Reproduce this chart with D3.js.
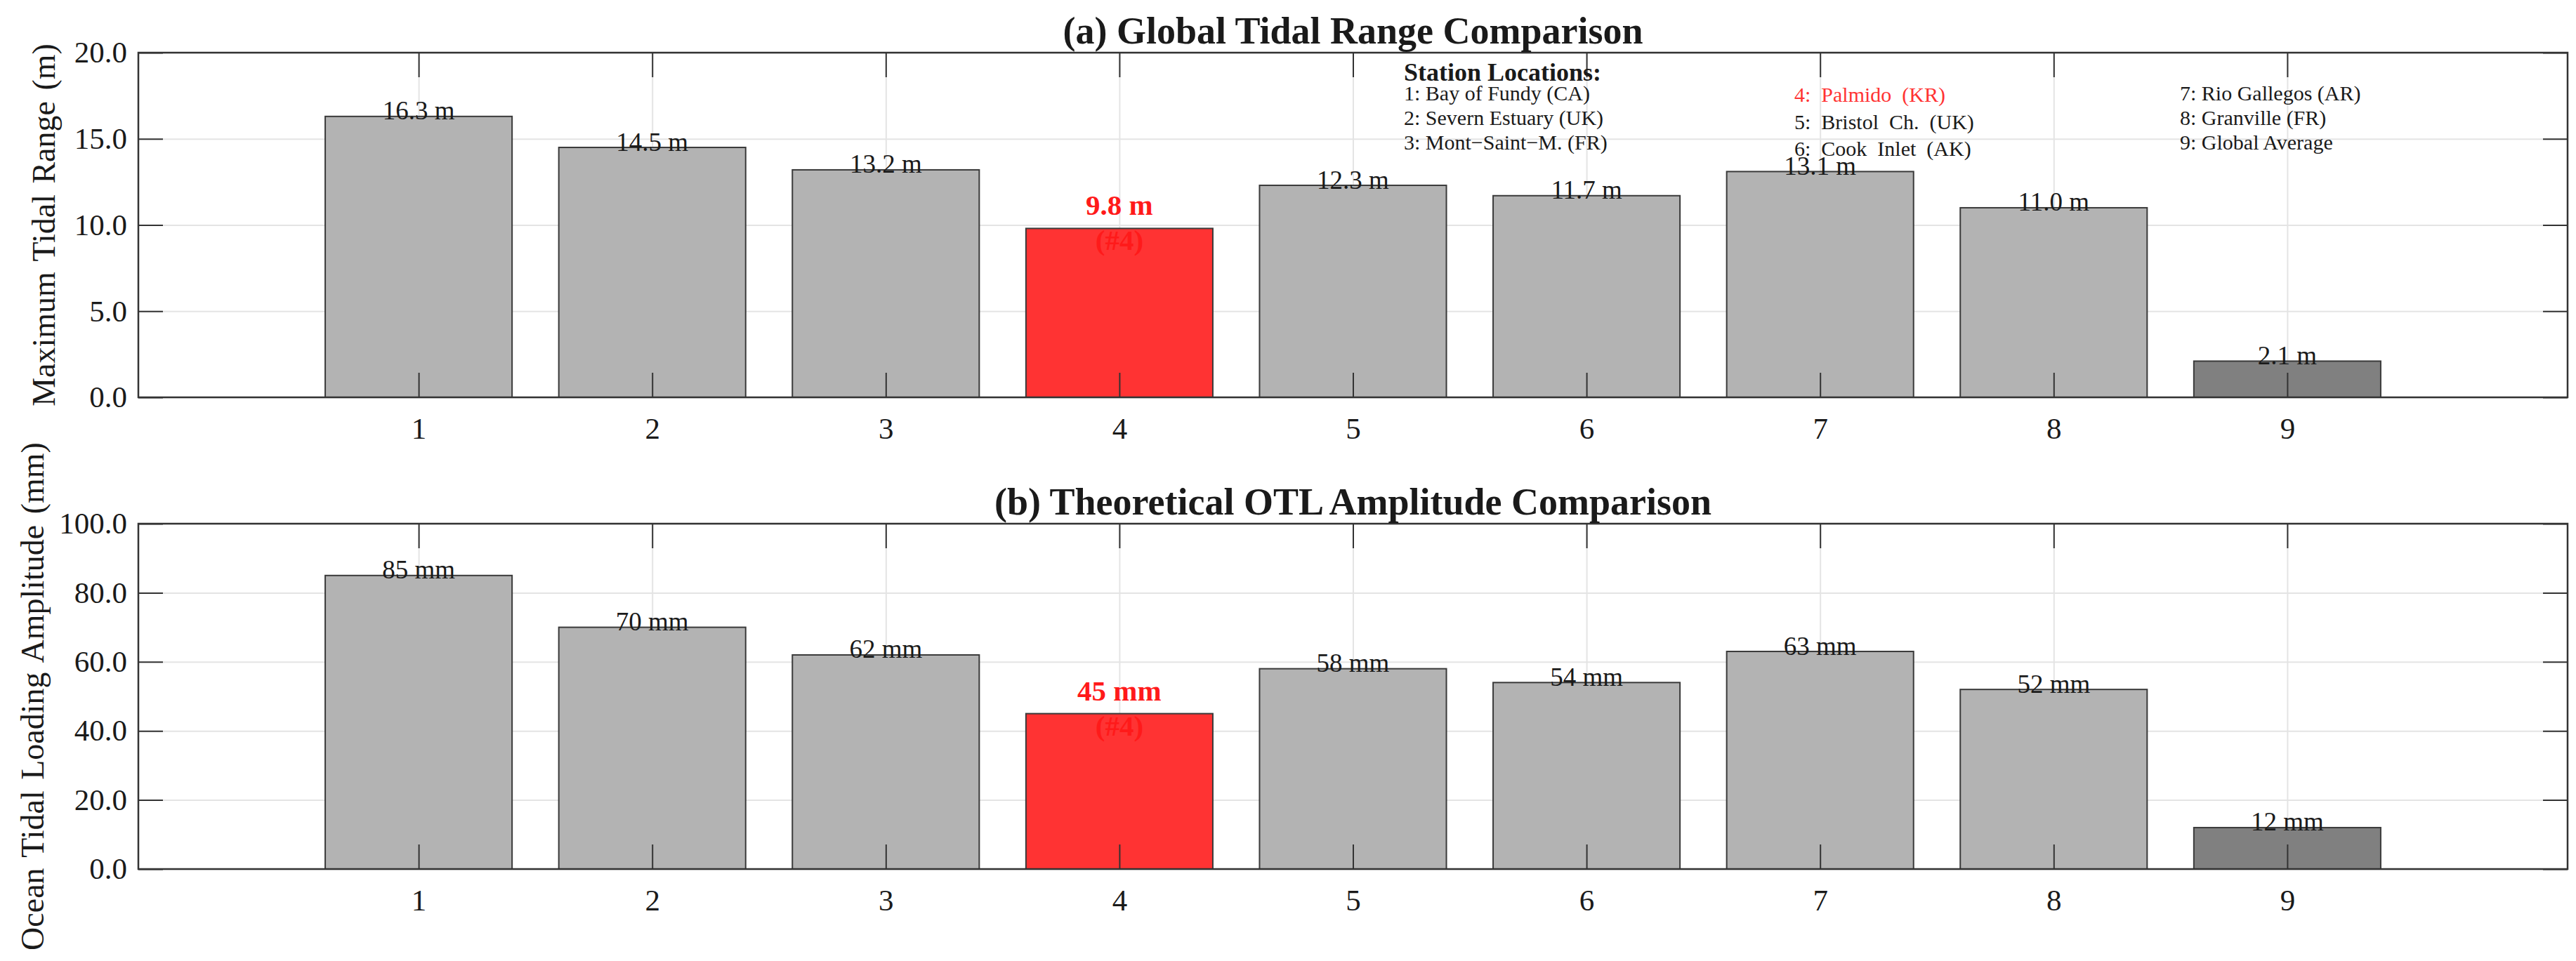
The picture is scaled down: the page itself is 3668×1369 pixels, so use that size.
<!DOCTYPE html>
<html>
<head>
<meta charset="utf-8">
<script src="https://cdn.jsdelivr.net/npm/d3@7"></script>
<style>
  html, body { margin: 0; padding: 0; background: #ffffff; }
  svg { display: block; }
</style>
</head>
<body>
<script>
/**
 * Tidal range vs OTL amplitude, two stacked bar panels
 */

// Data
const STATIONS      = [1, 2, 3, 4, 5, 6, 7, 8, 9];
const STATION_NAMES = ['Bay of Fundy (CA)', 'Severn Estuary (UK)', 'Mont\u2212Saint\u2212M. (FR)',
                       'Palmido  (KR)', 'Bristol  Ch.  (UK)', 'Cook  Inlet  (AK)',
                       'Rio Gallegos (AR)', 'Granville (FR)', 'Global Average'];
const TIDAL_RANGE   = [16.3, 14.5, 13.2, 9.8, 12.3, 11.7, 13.1, 11.0, 2.1];
const OTL_AMP       = [85, 70, 62, 45, 58, 54, 63, 52, 12];
const TIDAL_TICKS   = [0, 5, 10, 15, 20];
const OTL_TICKS     = [0, 20, 40, 60, 80, 100];
const HIGHLIGHT     = 4;   // Palmido
const REFERENCE     = 9;   // global average

// Dimensions
const W = 3668, H = 1369;
const PLOT_L = 197, PLOT_R = 3656;
const TICK_LEN = 35;

// Colors
const BG       = '#ffffff';
const FG       = '#1a1a1a';
const AXIS     = '#333333';
const GRID     = '#e4e4e4';
const BAR      = '#b3b3b3';
const BAR_REF  = '#808080';
const BAR_HI   = '#ff3333';
const RED_TXT  = '#ff1a1a';
const FONT     = "'Liberation Serif', 'Times New Roman', serif";

const svg = d3.select('body').append('svg')
  .attr('width', W)
  .attr('height', H)
  .attr('font-family', FONT);

svg.append('rect')
  .attr('width', W)
  .attr('height', H)
  .attr('fill', BG);

const x = d3.scaleLinear()
  .domain([-0.2, 10.2])
  .range([PLOT_L, PLOT_R]);

const barW = x(0.8) - x(0);

function barFill(s) {
  if (s === HIGHLIGHT) return BAR_HI;
  if (s === REFERENCE) return BAR_REF;
  return BAR;
}

function panel(opts) {
  const y = d3.scaleLinear()
    .domain(opts.domain)
    .range([opts.bottom, opts.top]);

  const g = svg.append('g');
  const h = opts.bottom - opts.top;

  // grid
  g.append('g')
    .attr('transform', `translate(0,${opts.bottom})`)
    .call(d3.axisBottom(x).tickValues(STATIONS).tickSize(-h).tickFormat(''))
    .call(g => g.select('.domain').remove())
    .call(g => g.selectAll('line').attr('stroke', GRID).attr('stroke-width', 2));
  g.append('g')
    .attr('transform', `translate(${PLOT_L},0)`)
    .call(d3.axisLeft(y).tickValues(opts.ticks).tickSize(-(PLOT_R - PLOT_L)).tickFormat(''))
    .call(g => g.select('.domain').remove())
    .call(g => g.selectAll('line').attr('stroke', GRID).attr('stroke-width', 2));

  // bars
  g.selectAll('rect.bar')
    .data(STATIONS)
    .join('rect')
    .attr('class', 'bar')
    .attr('x', d => x(d) - barW / 2)
    .attr('width', barW)
    .attr('y', (d, i) => y(opts.values[i]))
    .attr('height', (d, i) => y(0) - y(opts.values[i]))
    .attr('fill', d => barFill(d))
    .attr('stroke', '#3a3a3a')
    .attr('stroke-width', 2);

  // axes (ticks pointing inward on all four sides)
  const styleAxis = a => {
    a.select('.domain').remove();
    a.selectAll('line').attr('stroke', AXIS).attr('stroke-width', 2);
    a.selectAll('text')
      .attr('fill', FG)
      .attr('font-size', '43px')
      .attr('font-family', FONT);
  };

  g.append('g')
    .attr('transform', `translate(0,${opts.bottom})`)
    .call(d3.axisBottom(x).tickValues(STATIONS).tickSize(-TICK_LEN).tickPadding(28))
    .call(styleAxis);
  g.append('g')
    .attr('transform', `translate(0,${opts.top})`)
    .call(d3.axisTop(x).tickValues(STATIONS).tickSize(-TICK_LEN).tickFormat(''))
    .call(styleAxis);
  g.append('g')
    .attr('transform', `translate(${PLOT_L},0)`)
    .call(d3.axisLeft(y).tickValues(opts.ticks).tickSize(-TICK_LEN).tickPadding(16)
      .tickFormat(d3.format('.1f')))
    .call(styleAxis);
  g.append('g')
    .attr('transform', `translate(${PLOT_R},0)`)
    .call(d3.axisRight(y).tickValues(opts.ticks).tickSize(-TICK_LEN).tickFormat(''))
    .call(styleAxis);

  // frame
  g.append('rect')
    .attr('x', PLOT_L)
    .attr('y', opts.top)
    .attr('width', PLOT_R - PLOT_L)
    .attr('height', h)
    .attr('fill', 'none')
    .attr('stroke', AXIS)
    .attr('stroke-width', 2.5);

  // value labels
  STATIONS.forEach((s, i) => {
    const v = opts.values[i];
    const cy = y(v) - 8;
    if (s === HIGHLIGHT) {
      const t = g.append('text')
        .attr('text-anchor', 'middle')
        .attr('font-size', '41px')
        .attr('font-weight', 'bold')
        .attr('fill', RED_TXT);
      t.append('tspan')
        .attr('x', x(s)).attr('y', cy - 25)
        .attr('dominant-baseline', 'central')
        .text(opts.fmt(v));
      t.append('tspan')
        .attr('x', x(s)).attr('y', cy + 25)
        .attr('dominant-baseline', 'central')
        .text('(#' + s + ')');
    } else {
      g.append('text')
        .attr('x', x(s))
        .attr('y', cy)
        .attr('text-anchor', 'middle')
        .attr('dominant-baseline', 'central')
        .attr('font-size', '37px')
        .attr('fill', FG)
        .text(opts.fmt(v));
    }
  });

  // title
  g.append('text')
    .attr('x', (PLOT_L + PLOT_R) / 2)
    .attr('y', opts.top - 13)
    .attr('text-anchor', 'middle')
    .attr('font-size', '54px')
    .attr('font-weight', 'bold')
    .attr('fill', FG)
    .text(opts.title);

  // y label
  g.append('text')
    .attr('transform', `translate(${opts.labelX},${(opts.top + opts.bottom) / 2}) rotate(-90)`)
    .attr('text-anchor', 'middle')
    .attr('font-size', '46px')
    .attr('fill', FG)
    .attr('word-spacing', '4px')
    .text(opts.ylabel);

  return g;
}

const topPanel = panel({
  top: 75, bottom: 566,
  domain: [0, 20], ticks: TIDAL_TICKS,
  values: TIDAL_RANGE,
  fmt: v => v.toFixed(1) + ' m',
  title: '(a) Global Tidal Range Comparison',
  ylabel: 'Maximum Tidal Range (m)',
  labelX: 78
});

panel({
  top: 746, bottom: 1238,
  domain: [0, 100], ticks: OTL_TICKS,
  values: OTL_AMP,
  fmt: v => v + ' mm',
  title: '(b) Theoretical OTL Amplitude Comparison',
  ylabel: 'Ocean Tidal Loading Amplitude (mm)',
  labelX: 62
});

// Station legend (three columns of three)
const legend = topPanel.append('g');
legend.append('text')
  .attr('x', 1999)
  .attr('y', 115)
  .attr('font-size', '36px')
  .attr('font-weight', 'bold')
  .attr('fill', FG)
  .text('Station Locations:');

const COL_X    = [1999, 2555, 3104];
const COL_Y0   = [143, 145, 143];
const COL_STEP = [35, 38.5, 35];

STATIONS.forEach((s, i) => {
  const col = Math.floor(i / 3), row = i % 3;
  const sep = col === 1 ? ':  ' : ': ';
  legend.append('text')
    .attr('x', COL_X[col])
    .attr('y', COL_Y0[col] + row * COL_STEP[col])
    .attr('font-size', '30px')
    .attr('fill', s === HIGHLIGHT ? BAR_HI : FG)
    .style('white-space', 'pre')
    .text(s + sep + STATION_NAMES[i]);
});
</script>
</body>
</html>
